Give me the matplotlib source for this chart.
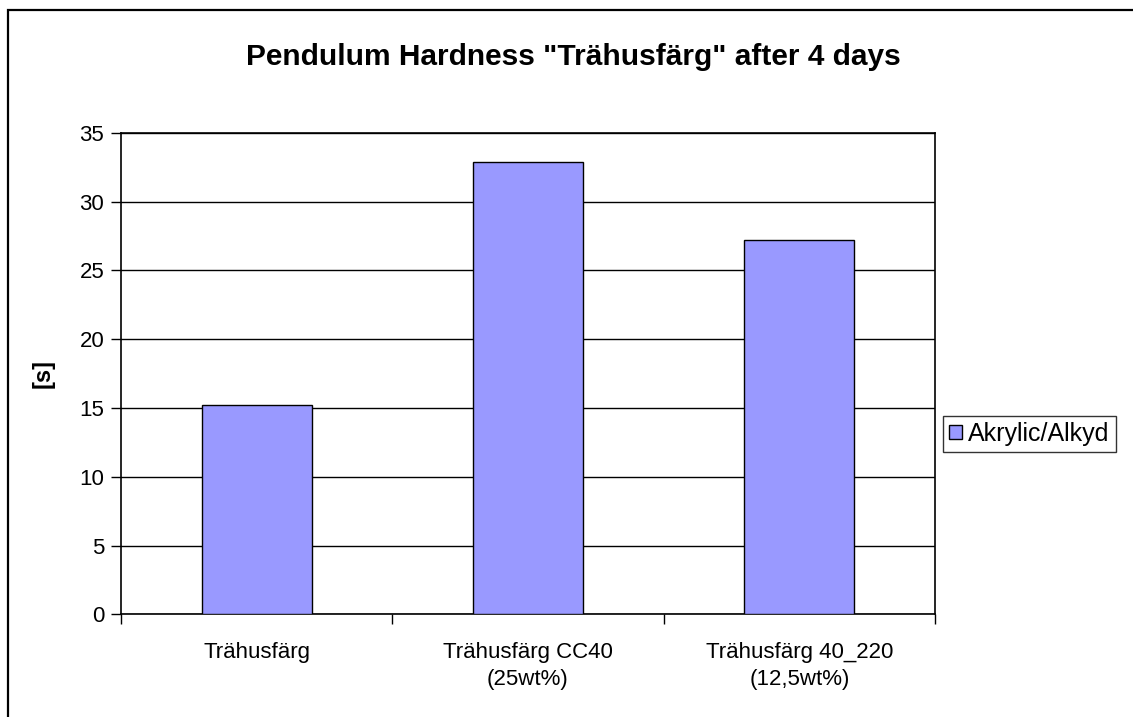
import matplotlib
matplotlib.use("Agg")
import matplotlib.pyplot as plt
from matplotlib.patches import Rectangle, Patch

plt.rcParams['font.family'] = ['Liberation Sans', 'DejaVu Sans']

categories = ["Trähusfärg", "Trähusfärg CC40\n(25wt%)", "Trähusfärg 40_220\n(12,5wt%)"]
values = [15.2, 32.9, 27.2]
series_name = "Akrylic/Alkyd"
yticks = [0, 5, 10, 15, 20, 25, 30, 35]

W, H = 1133, 717
fig = plt.figure(figsize=(W/100, H/100), dpi=100)
fig.patch.set_facecolor('white')

# outer chart border (top + left visible, rest cut off)
fig.add_artist(Rectangle((8/W, -0.1), 1.2, 1 - 10/H + 0.1, transform=fig.transFigure,
                         fill=False, edgecolor='black', linewidth=1.6))

ax = fig.add_axes([121/W, 1 - 614.3/H, (935-121)/W, (614.3-132.7)/H])
x = list(range(len(categories)))
ax.bar(x, values, width=0.405, color='#9999FF', edgecolor='black', linewidth=1.0, zorder=3)
ax.set_xlim(-0.5, len(categories) - 0.5)
ax.set_ylim(0, 35)
ax.set_yticks(yticks)
ax.set_yticklabels([str(v) for v in yticks], fontsize=16)
ax.yaxis.grid(True, color='black', linewidth=1.0, zorder=0)
ax.set_axisbelow(True)
ax.set_xticks([i - 0.5 for i in range(len(categories) + 1)])
ax.set_xticklabels([])
ax.set_xticks(x, minor=True)
ax.set_xticklabels(categories, minor=True, fontsize=16, linespacing=1.4)
ax.tick_params(axis='x', which='minor', length=0, pad=20)
ax.tick_params(axis='x', which='major', direction='out', length=7, width=1.0)
ax.tick_params(axis='y', direction='out', length=7, width=1.0, pad=5)
for s in ax.spines.values():
    s.set_color('black')
    s.set_linewidth(1.2)

ax.set_ylabel("[s]", fontsize=17, fontweight='bold', labelpad=18)
fig.text(573/W, 1 - 57/H, 'Pendulum Hardness "Trähusfärg" after 4 days',
         ha='center', va='center', fontsize=21.5, fontweight='bold')

handle = Patch(facecolor='#9999FF', edgecolor='black', linewidth=1.0, label=series_name)
leg = fig.legend(handles=[handle], loc='center left', bbox_to_anchor=(943/W, 1 - 434/H),
                 fontsize=18, frameon=True, fancybox=False, edgecolor='black',
                 handlelength=0.5, handleheight=0.5, handletextpad=0.25, borderpad=0.25,
                 borderaxespad=0)
leg.get_frame().set_linewidth(1.0)

fig.savefig("out.png", dpi=100)
